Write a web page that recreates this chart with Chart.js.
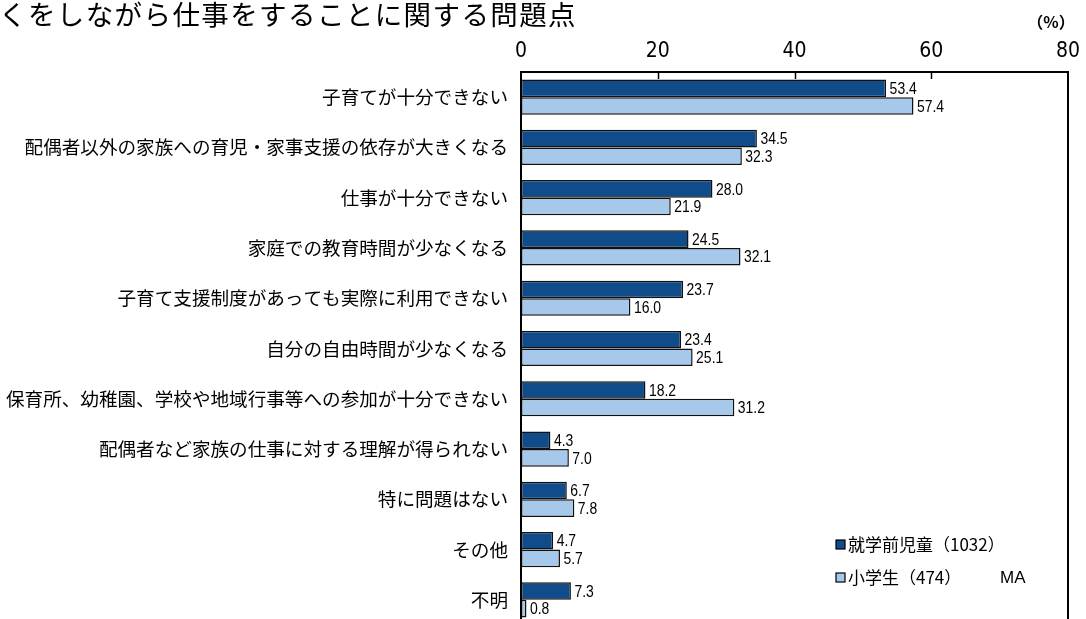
<!DOCTYPE html>
<html><head><meta charset="utf-8">
<script src="https://cdn.jsdelivr.net/npm/chart.js@4.4.1/dist/chart.umd.min.js"></script>
<style>
html,body{margin:0;padding:0;background:#fff;overflow:hidden;}
#wrap{width:1086px;height:619px;overflow:hidden;position:relative;background:#fff;}
canvas{display:block;}
</style></head><body>
<div id="wrap"><canvas id="c" width="1086" height="645"></canvas></div>
<script>
const titleText = "くをしながら仕事をすることに関する問題点";
const unitText = "（%）";
const noteText = "MA";
const categories = [
  "子育てが十分できない",
  "配偶者以外の家族への育児・家事支援の依存が大きくなる",
  "仕事が十分できない",
  "家庭での教育時間が少なくなる",
  "子育て支援制度があっても実際に利用できない",
  "自分の自由時間が少なくなる",
  "保育所、幼稚園、学校や地域行事等への参加が十分できない",
  "配偶者など家族の仕事に対する理解が得られない",
  "特に問題はない",
  "その他",
  "不明"
];
const seriesNames = ["就学前児童（1032）", "小学生（474）"];
const preschool = [53.4, 34.5, 28.0, 24.5, 23.7, 23.4, 18.2, 4.3, 6.7, 4.7, 7.3];
const elementary = [57.4, 32.3, 21.9, 32.1, 16.0, 25.1, 31.2, 7.0, 7.8, 5.7, 0.8];
const xTicks = [0, 20, 40, 60, 80];

const JP = "'Noto Sans CJK JP', 'Noto Sans', sans-serif";
const NUM = "'Liberation Sans', Arial, sans-serif";
const TICKF = "'DejaVu Sans Condensed', 'Liberation Sans', sans-serif";
const DARK = '#0f4c89';
const LIGHT = '#a6c8ea';

function condensedText(ctx, text, x, y, sx) {
  ctx.save();
  ctx.translate(x, y);
  ctx.scale(sx, 1);
  ctx.fillText(text, 0, 0);
  ctx.restore();
}

const overlay = {
  id: 'overlay',
  afterDraw(chart) {
    const ctx = chart.ctx;
    const a = chart.chartArea;
    const xs = chart.scales.x;
    ctx.save();
    // frame
    ctx.strokeStyle = '#000';
    ctx.lineWidth = 2;
    ctx.strokeRect(a.left, a.top, a.right - a.left, a.bottom - a.top);
    // inner tick marks
    ctx.lineWidth = 1.5;
    xTicks.slice(1, -1).forEach(v => {
      const x = Math.round(xs.getPixelForValue(v)) + 0.5;
      ctx.beginPath(); ctx.moveTo(x, a.top); ctx.lineTo(x, a.top + 7); ctx.stroke();
    });
    // data labels
    ctx.fillStyle = '#000';
    ctx.font = "17px " + NUM;
    ctx.textAlign = 'left';
    ctx.textBaseline = 'middle';
    chart.data.datasets.forEach((ds, di) => {
      const meta = chart.getDatasetMeta(di);
      meta.data.forEach((bar, i) => {
        condensedText(ctx, ds.data[i].toFixed(1), bar.x + 3.5, bar.y + 1, 0.82);
      });
    });
    // title
    ctx.font = "27.5px " + JP;
    ctx.textBaseline = 'middle';
    ctx.letterSpacing = '1.4px';
    ctx.fillText(titleText, -1, 15);
    ctx.letterSpacing = '0px';
    // unit
    ctx.font = "bold 16px " + JP;
    ctx.textAlign = 'center';
    ctx.fillText(unitText, 1051, 22);
    // legend
    ctx.textAlign = 'left';
    ctx.font = "17px " + JP;
    const ly = [545, 578];
    chart.data.datasets.forEach((ds, di) => {
      ctx.fillStyle = ds.backgroundColor;
      ctx.fillRect(836, ly[di] - 5, 9, 9);
      ctx.lineWidth = 1.2;
      ctx.strokeStyle = '#000';
      ctx.strokeRect(836, ly[di] - 5, 9, 9);
      ctx.fillStyle = '#000';
      ctx.fillText(ds.label, 848, ly[di]);
    });
    ctx.font = "17px " + NUM;
    ctx.fillText(noteText, 1000, 578);
    ctx.restore();
  }
};

new Chart(document.getElementById('c'), {
  type: 'bar',
  data: {
    labels: categories,
    datasets: [
      { label: seriesNames[0], data: preschool, backgroundColor: DARK, borderColor: '#111', borderWidth: 1.5, borderSkipped: false },
      { label: seriesNames[1], data: elementary, backgroundColor: LIGHT, borderColor: '#111', borderWidth: 1.5, borderSkipped: false }
    ]
  },
  options: {
    indexAxis: 'y',
    responsive: false,
    animation: false,
    devicePixelRatio: 1,
    categoryPercentage: 0.7,
    barPercentage: 1.0,
    layout: { padding: { left: 0, right: 18, top: 0, bottom: 20 } },
    plugins: { legend: { display: false }, tooltip: { enabled: false } },
    scales: {
      x: {
        position: 'top', min: 0, max: 80,
        afterBuildTicks: s => { s.ticks = xTicks.map(v => ({ value: v })); },
        ticks: { font: { family: TICKF, size: 21 }, color: '#000', padding: 8 },
        grid: { display: false, drawTicks: false },
        border: { display: false },
        afterFit: s => { s.height = 72; s.paddingLeft = 0; s.paddingRight = 0; }
      },
      y: {
        ticks: { font: { family: JP, size: 18.6 }, color: '#000', padding: 13, autoSkip: false },
        grid: { display: false, drawTicks: false },
        border: { display: false },
        afterFit: s => { s.width = 521; s.paddingTop = 0; s.paddingBottom = 0; }
      }
    }
  },
  plugins: [overlay]
});
</script>
</body></html>
